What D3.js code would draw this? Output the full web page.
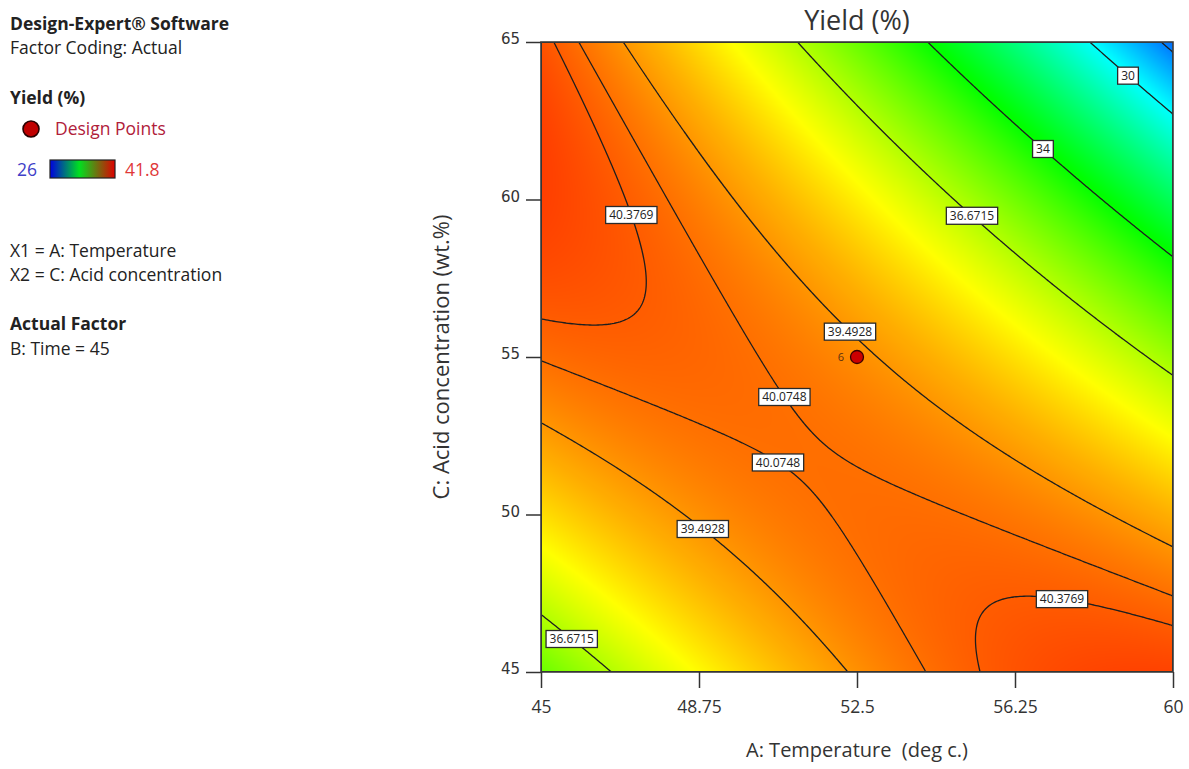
<!DOCTYPE html>
<html>
<head>
<meta charset="utf-8">
<script src="https://cdn.jsdelivr.net/npm/d3@7"></script>
<style>
  html, body { margin: 0; padding: 0; background: #ffffff; }
  svg { display: block; }
</style>
</head>
<body>
<svg id="chart" width="1189" height="769"></svg>
<script>
// ---- Factor ranges and axis ticks ----
const tempDomain = [45, 60];            // A: Temperature (deg c.)
const acidDomain = [45, 65];            // C: Acid concentration (wt.%)
const tempTicks = [45, 48.75, 52.5, 56.25, 60];
const tempTickLabels = ["45", "48.75", "52.5", "56.25", "60"];
const acidTicks = [45, 50, 55, 60, 65];
const acidTickLabels = ["45", "50", "55", "60", "65"];

// ---- Fitted quadratic model for Yield (%) in coded factors (B: Time = 45) ----
const modelTerms = ["Intercept", "A", "C", "AC", "A^2", "C^2"];
const modelCoefficients = [39.62, -1.905, -2.03, -4.53, -1.42, -2.08];

// ---- Contour levels and their labels ----
const contourLevels = [28, 30, 34, 36.6715, 39.4928, 40.0748, 40.3769];
const labelLevels = [40.3769, 40.3769, 40.0748, 40.0748, 39.4928, 39.4928, 36.6715, 36.6715, 34, 30];
const labelTemps  = [47.35, 57.39, 51.03, 50.62, 52.48, 48.94, 55.30, 45.85, 57.01, 58.98];
const labelAcids  = [59.60, 47.57, 53.95, 51.67, 56.02, 49.73, 59.60, 46.24, 61.73, 64.02];

// ---- Design points ----
const designTemps = [52.5];
const designAcids = [55];
const designCounts = [6];

// ---- Colour ramp for the response range ----
const yieldRange = [26, 41.8];
const rampColors = ["#0000ff", "#00ffff", "#00ff00", "#ffff00", "#ff0000"];

const svg = d3.select("#chart");
const margin = { left: 541, top: 42, right: 1173, bottom: 672 };
const W = margin.right - margin.left, H = margin.bottom - margin.top;

const x = d3.scaleLinear().domain(tempDomain).range([margin.left, margin.right]);
const y = d3.scaleLinear().domain(acidDomain).range([margin.bottom, margin.top]);

function predict(T, C) {
  const a = (T - (tempDomain[0] + tempDomain[1]) / 2) / ((tempDomain[1] - tempDomain[0]) / 2);
  const c = (C - (acidDomain[0] + acidDomain[1]) / 2) / ((acidDomain[1] - acidDomain[0]) / 2);
  const b = modelCoefficients;
  return b[0] + b[1] * a + b[2] * c + b[3] * a * c + b[4] * a * a + b[5] * c * c;
}

const rampStops = d3.range(rampColors.length).map(i =>
  yieldRange[0] + i * (yieldRange[1] - yieldRange[0]) / (rampColors.length - 1));
const color = d3.scaleLinear().domain(rampStops).range(rampColors)
  .interpolate(d3.interpolateRgb).clamp(true);

// ---- Filled response surface (rendered to a canvas image) ----
const lutN = 1024;
const lut = d3.range(lutN).map(i => d3.rgb(color(yieldRange[0] + i / (lutN - 1) * (yieldRange[1] - yieldRange[0]))));
const canvas = document.createElement("canvas");
canvas.width = W; canvas.height = H;
const ctx = canvas.getContext("2d");
const img = ctx.createImageData(W, H);
for (let j = 0; j < H; j++) {
  const C = y.invert(margin.top + j + 0.5);
  for (let i = 0; i < W; i++) {
    const T = x.invert(margin.left + i + 0.5);
    const v = predict(T, C);
    let k = Math.round((v - yieldRange[0]) / (yieldRange[1] - yieldRange[0]) * (lutN - 1));
    k = Math.max(0, Math.min(lutN - 1, k));
    const col = lut[k];
    const p = (j * W + i) * 4;
    img.data[p] = col.r; img.data[p + 1] = col.g; img.data[p + 2] = col.b; img.data[p + 3] = 255;
  }
}
ctx.putImageData(img, 0, 0);
svg.append("image")
  .attr("x", margin.left).attr("y", margin.top)
  .attr("width", W).attr("height", H)
  .attr("preserveAspectRatio", "none")
  .attr("href", canvas.toDataURL());

// ---- Contour lines ----
const nx = W / 2, ny = Math.round(H / 2);
const grid = new Float64Array(nx * ny);
for (let j = 0; j < ny; j++) {
  const C = y.invert(margin.top + (j + 0.5) * H / ny);
  for (let i = 0; i < nx; i++) {
    grid[j * nx + i] = predict(x.invert(margin.left + (i + 0.5) * W / nx), C);
  }
}
const contours = d3.contours().size([nx, ny]).thresholds(contourLevels)(grid);
const toPx = (px, py) => [margin.left + px * W / nx, margin.top + py * H / ny];
const path = d3.geoPath(d3.geoTransform({
  point(px, py) { const p = toPx(px, py); this.stream.point(p[0], p[1]); }
}));

svg.append("clipPath").attr("id", "plotClip")
  .append("rect").attr("x", margin.left).attr("y", margin.top).attr("width", W).attr("height", H);

svg.append("g").attr("clip-path", "url(#plotClip)")
  .selectAll("path").data(contours).join("path")
  .attr("d", path)
  .attr("fill", "none")
  .attr("stroke", "#1e1e1e")
  .attr("stroke-width", 1.3)
  .attr("stroke-linejoin", "round");

// ---- Frame ----
svg.append("rect")
  .attr("x", margin.left).attr("y", margin.top).attr("width", W).attr("height", H)
  .attr("fill", "none").attr("stroke", "#3c3c3c").attr("stroke-width", 1.6);

// ---- Axes ----
const xAxis = svg.append("g").attr("transform", `translate(0,${margin.bottom})`)
  .call(d3.axisBottom(x).tickValues(tempTicks).tickFormat((d, i) => tempTickLabels[i]).tickSize(16).tickSizeOuter(0));
xAxis.select(".domain").remove();
xAxis.selectAll(".tick line").attr("stroke", "#333").attr("stroke-width", 1.5);
xAxis.selectAll(".tick text").attr("y", 35).attr("dy", "0.35em")
  .style("font-family", "'Open Sans', sans-serif").style("font-size", "17.5px").attr("fill", "#333");

const yAxis = svg.append("g").attr("transform", `translate(${margin.left},0)`)
  .call(d3.axisLeft(y).tickValues(acidTicks).tickFormat((d, i) => acidTickLabels[i]).tickSize(15).tickSizeOuter(0));
yAxis.select(".domain").remove();
yAxis.selectAll(".tick line").attr("stroke", "#333").attr("stroke-width", 1.5);
yAxis.selectAll(".tick text").attr("x", -21).attr("dy", "0.1em")
  .style("font-family", "'DejaVu Sans', sans-serif").style("font-size", "15px").attr("fill", "#333");

// Axis titles and chart title
svg.append("text").attr("x", (margin.left + margin.right) / 2).attr("y", 757)
  .attr("text-anchor", "middle").attr("xml:space", "preserve").style("white-space", "pre")
  .style("font-family", "'Open Sans', sans-serif").style("font-size", "20px").attr("fill", "#333")
  .text("A: Temperature  (deg c.)");
svg.append("text").attr("transform", `translate(449,${(margin.top + margin.bottom) / 2}) rotate(-90)`)
  .attr("text-anchor", "middle")
  .style("font-family", "'Open Sans', sans-serif").style("font-size", "22px").attr("fill", "#333")
  .text("C: Acid concentration (wt.%)");
svg.append("text").attr("x", (margin.left + margin.right) / 2).attr("y", 30)
  .attr("text-anchor", "middle")
  .style("font-family", "'Open Sans', sans-serif").style("font-size", "27px").attr("fill", "#333")
  .text("Yield (%)");

// ---- Contour labels, snapped onto their contour line ----
const labelLayer = svg.append("g");
labelLevels.forEach((lvl, idx) => {
  const target = [x(labelTemps[idx]), y(labelAcids[idx])];
  const cont = contours[contourLevels.indexOf(lvl)];
  let best = target, bestD = Infinity;
  cont.coordinates.forEach(poly => poly.forEach(ring => ring.forEach(pt => {
    const p = toPx(pt[0], pt[1]);
    if (p[0] < margin.left + 2 || p[0] > margin.right - 2 || p[1] < margin.top + 2 || p[1] > margin.bottom - 2) return;
    const d = (p[0] - target[0]) ** 2 + (p[1] - target[1]) ** 2;
    if (d < bestD) { bestD = d; best = p; }
  })));
  const g = labelLayer.append("g").attr("transform", `translate(${best[0]},${best[1]})`);
  const rect = g.append("rect");
  const t = g.append("text").attr("text-anchor", "middle").attr("dy", "0.36em")
    .style("font-family", "'Open Sans', sans-serif").style("font-size", "12px").attr("fill", "#222")
    .text(String(lvl));
  const w = t.node().getComputedTextLength() + 7;
  rect.attr("x", -w / 2).attr("y", -8.5).attr("width", w).attr("height", 17)
    .attr("fill", "#ffffff").attr("stroke", "#2a2a2a").attr("stroke-width", 1.3);
});

// ---- Design points ----
const dp = svg.append("g");
designTemps.forEach((T, i) => {
  dp.append("circle").attr("cx", x(T)).attr("cy", y(designAcids[i])).attr("r", 6.5)
    .attr("fill", "#cc0000").attr("stroke", "#3a0000").attr("stroke-width", 1.3);
  dp.append("text").attr("x", x(T) - 13).attr("y", y(designAcids[i])).attr("dy", "0.35em")
    .attr("text-anchor", "end")
    .style("font-family", "'Open Sans', sans-serif").style("font-size", "11px").attr("fill", "#5a3010")
    .text(designCounts[i]);
});

// ---- Left information panel ----
const info = svg.append("g").style("font-family", "'Open Sans', sans-serif").style("font-size", "17.5px").attr("fill", "#222");
info.append("text").attr("x", 10).attr("y", 30).style("font-weight", "bold").text("Design-Expert® Software");
info.append("text").attr("x", 10).attr("y", 54).text("Factor Coding: Actual");
info.append("text").attr("x", 10).attr("y", 104).style("font-weight", "bold").text("Yield (%)");
info.append("circle").attr("cx", 31).attr("cy", 129).attr("r", 8)
  .attr("fill", "#c00000").attr("stroke", "#2a0000").attr("stroke-width", 1.6);
info.append("text").attr("x", 55).attr("y", 135).attr("fill", "#b0203a").text("Design Points");
info.append("text").attr("x", 17).attr("y", 176).attr("fill", "#4040c8").text(String(yieldRange[0]));
info.append("text").attr("x", 125).attr("y", 176).attr("fill", "#e03838").text(String(yieldRange[1]));

const grad = svg.append("defs").append("linearGradient").attr("id", "legendRamp");
grad.append("stop").attr("offset", "0%").attr("stop-color", "#0000e0");
grad.append("stop").attr("offset", "45%").attr("stop-color", "#00e020");
grad.append("stop").attr("offset", "100%").attr("stop-color", "#e00000");
info.append("rect").attr("x", 50).attr("y", 160).attr("width", 65).attr("height", 18)
  .attr("fill", "url(#legendRamp)").attr("stroke", "#222").attr("stroke-width", 1.2);

info.append("text").attr("x", 10).attr("y", 257).text("X1 = A: Temperature");
info.append("text").attr("x", 10).attr("y", 281).text("X2 = C: Acid concentration");
info.append("text").attr("x", 10).attr("y", 330).style("font-weight", "bold").text("Actual Factor");
info.append("text").attr("x", 10).attr("y", 355).text("B: Time = 45");
</script>
</body>
</html>
